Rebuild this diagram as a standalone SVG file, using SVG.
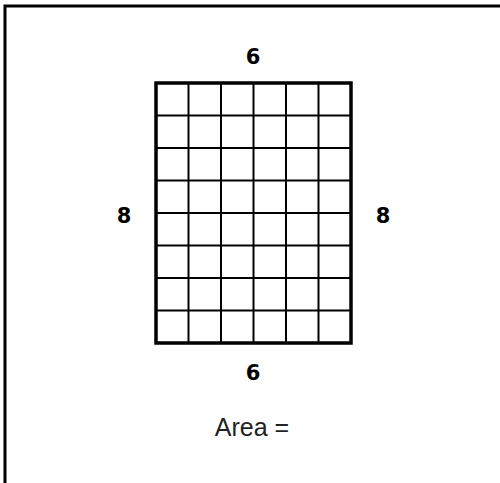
<svg xmlns="http://www.w3.org/2000/svg" width="500" height="483" viewBox="0 0 500 483">
<style>
.frame{stroke:#000;stroke-width:3;fill:none}
.inner{stroke:#000;stroke-width:2;fill:none}
.outer{stroke:#000;stroke-width:3.5;fill:none}
.num{font-family:"DejaVu Sans",sans-serif;font-weight:bold;font-size:21px;fill:#000;text-anchor:middle}
.lbl{font-family:"Liberation Sans",Arial,sans-serif;font-size:25px;fill:#222;text-anchor:middle}
</style>
<rect width="500" height="483" fill="#fff"/>
<g id="frame">
<path class="frame" d="M5,483 V6 H500"/>
</g>
<g id="grid">
<path class="inner" d="M188.5,83V343M221,83V343M253.5,83V343M286,83V343M318.5,83V343M156,115.5H351M156,148H351M156,180.5H351M156,213H351M156,245.5H351M156,278H351M156,310.5H351"/>
<rect class="outer" x="156" y="83" width="195" height="260"/>
</g>
<g id="labels">
<text class="num" x="253" y="64">6</text>
<text class="num" x="253" y="380">6</text>
<text class="num" x="124" y="223">8</text>
<text class="num" x="383" y="223">8</text>
<text class="lbl" x="252" y="436">Area =</text>
</g>
</svg>
